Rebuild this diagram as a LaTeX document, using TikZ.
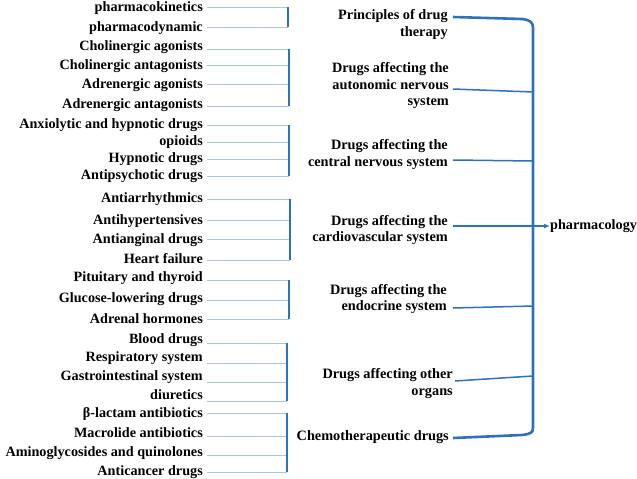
\documentclass[tikz,border=0pt]{standalone}
\usepackage{fontspec}
\setmainfont{Liberation Serif}
\usetikzlibrary{arrows.meta}
\definecolor{mainblue}{RGB}{46,112,190}
\definecolor{leafblue}{RGB}{165,196,232}
\newcommand\leafitem[5]{%
  \node[itemtxt] (#1) at (203,#3+4) {#2};
  \coordinate (#1-a) at (207,#4);
  \coordinate (#1-b) at (#5,#4);
  \draw[leaf] (#1-a) -- (#1-b);}
\begin{document}
\begin{tikzpicture}[x=1pt,y=-1pt,
  itemtxt/.style={anchor=base east,inner sep=0pt,font=\fontsize{14.2}{16.5}\selectfont\bfseries},
  midtxt/.style={anchor=east,inner sep=0pt,align=right,font=\fontsize{14.3}{16.5}\selectfont\bfseries},
  leaf/.style={draw=leafblue,line width=1pt},
  bracebar/.style={draw=mainblue,line width=2pt},
  trunk/.style={draw=mainblue,line width=2.6pt},
  link/.style={draw=mainblue,line width=1.5pt}]
\useasboundingbox (0,0) rectangle (637,479);
% group 1
\leafitem{k1}{pharmacokinetics}{8}{7}{288}
\leafitem{k2}{pharmacodynamic}{27}{27}{288}
\draw[bracebar] (k1-b) -- (k2-b);
% group 2
\leafitem{a1}{Cholinergic agonists}{46}{49}{289}
\leafitem{a2}{Cholinergic antagonists}{65}{65}{289}
\leafitem{a3}{Adrenergic agonists}{84}{84}{289}
\leafitem{a4}{Adrenergic antagonists}{104}{106}{289}
\draw[bracebar] (a1-b) -- (a4-b);
% group 3
\leafitem{c1}{Anxiolytic and hypnotic drugs}{124}{125}{289}
\leafitem{c2}{opioids}{141}{142}{289}
\leafitem{c3}{Hypnotic drugs}{158}{159}{289}
\leafitem{c4}{Antipsychotic drugs}{175}{176}{289}
\draw[bracebar] (c1-b) -- (c4-b);
% group 4
\leafitem{v1}{Antiarrhythmics}{198}{199}{290}
\leafitem{v2}{Antihypertensives}{220}{220}{290}
\leafitem{v3}{Antianginal drugs}{239}{239}{290}
\leafitem{v4}{Heart failure}{259}{260}{290}
\draw[bracebar] (v1-b) -- (v4-b);
% group 5
\leafitem{e1}{Pituitary and thyroid}{277}{280}{289}
\leafitem{e2}{Glucose-lowering drugs}{298}{300}{289}
\leafitem{e3}{Adrenal hormones}{319}{319}{289}
\draw[bracebar] (e1-b) -- (e3-b);
% group 6
\leafitem{o1}{Blood drugs}{339}{343}{287}
\leafitem{o2}{Respiratory system}{357}{363}{287}
\leafitem{o3}{Gastrointestinal system}{376}{382}{287}
\leafitem{o4}{diuretics}{395}{401}{287}
\draw[bracebar] (o1-b) -- (o4-b);
% group 7
\leafitem{h1}{β-lactam antibiotics}{413}{413}{287}
\leafitem{h2}{Macrolide antibiotics}{433}{436}{287}
\leafitem{h3}{Aminoglycosides and quinolones}{452}{455}{287}
\leafitem{h4}{Anticancer drugs}{471}{472}{287}
\draw[bracebar] (h1-b) -- (h4-b);
% middle labels
\node[midtxt] (princ) at (448,24.5) {Principles of drug\\therapy};
\node[midtxt] (auto) at (449,86) {Drugs affecting the\\autonomic nervous\\system};
\node[midtxt] (cns) at (448,154.5) {Drugs affecting the\\central nervous system};
\node[midtxt] (cardio) at (448,230) {Drugs affecting the\\cardiovascular system};
\node[midtxt] (endo) at (447,299) {Drugs affecting the\\endocrine system};
\node[midtxt] (other) at (453,383.5) {Drugs affecting other\\organs};
\node[midtxt] (chemo) at (449,437) {Chemotherapeutic drugs};
\node[anchor=west,inner sep=0pt,font=\fontsize{14.2}{16.5}\selectfont\bfseries] (pharm) at (550,226) {pharmacology};
% connector end points
\coordinate (princ-s) at (453,17);
\coordinate (auto-s) at (453,89);
\coordinate (cns-s) at (453,160);
\coordinate (cardio-s) at (453,226);
\coordinate (endo-s) at (453,308);
\coordinate (other-s) at (455,381);
\coordinate (chemo-s) at (453,438);
\coordinate (auto-t) at (533,92);
\coordinate (cns-t) at (533,161);
\coordinate (endo-t) at (533,306);
\coordinate (other-t) at (533,376);
% trunk
\draw[trunk] (princ-s) -- (522,19) .. controls (530,20) and (533,22) .. (533,28)
  -- (533,428) .. controls (533,433) and (530,434) .. (522,435) -- (chemo-s);
\draw[link] (auto-s) -- (auto-t);
\draw[link] (cns-s) -- (cns-t);
\draw[link] (endo-s) -- (endo-t);
\draw[link] (other-s) -- (other-t);
\draw[link,-{Latex[length=6pt,width=5pt]}] (cardio-s) -- (pharm.west);
\end{tikzpicture}
\end{document}
